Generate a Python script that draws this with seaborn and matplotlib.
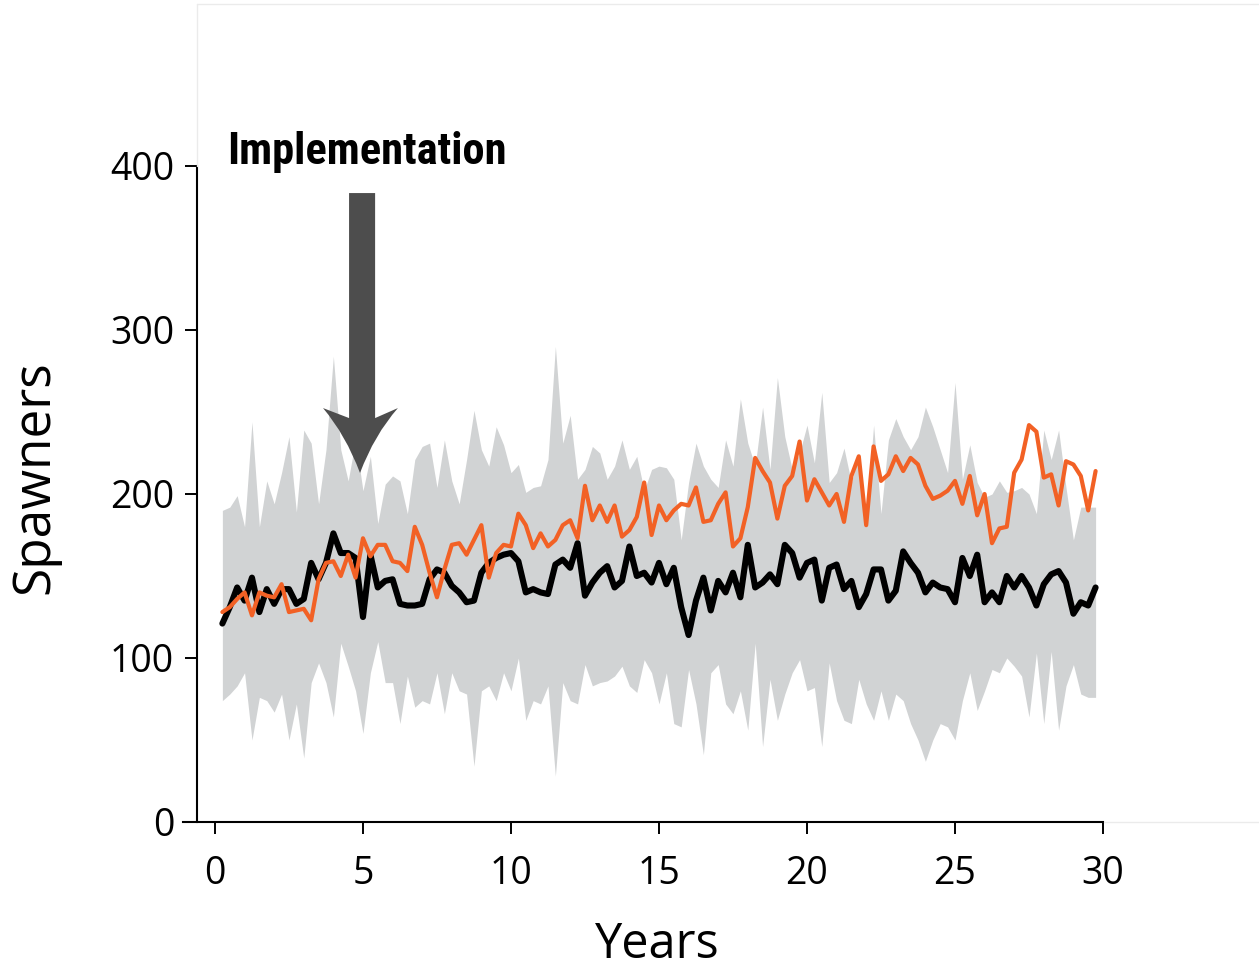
import numpy as np
import pandas as pd
import matplotlib
matplotlib.use("Agg")
import matplotlib.pyplot as plt
from matplotlib.patches import PathPatch
from matplotlib.path import Path
from matplotlib.lines import Line2D
from matplotlib import font_manager
import seaborn as sns

# ---------------- data ----------------
black_series = [
    121, 131, 143, 135, 149, 128, 142, 133, 142, 142, 133, 136, 158, 148, 158, 176, 164, 164, 161, 125,
    163, 143, 147, 148, 133, 132, 132, 133, 148, 154, 152, 144, 140, 134, 135, 152, 158, 161, 163,
    164, 159, 140, 142, 140, 139, 157, 160, 155, 170, 138, 146, 152, 156, 143, 147, 168, 150, 152, 146,
    158, 145, 155, 131, 114, 135, 149, 129, 147, 140, 152, 137, 169, 143, 146, 151, 145, 169, 164, 149,
    158, 160, 135,
    155, 157, 142, 147, 131, 139, 154, 154, 135, 141, 165, 158, 152, 140, 146, 143, 142, 134, 161, 150,
    163, 134, 140, 134, 150, 143, 150, 143, 132, 145, 151, 153, 146, 127, 134, 132, 143,
]
orange_series = [
    128, 131, 136, 140, 126, 140, 138, 137, 145, 128, 129, 130, 123, 148, 158, 159, 150, 163, 149, 173,
    162, 169, 169, 159, 158, 153, 180, 169, 152, 137, 154, 169, 170, 163, 172, 181, 149, 164, 169,
    168, 188, 181, 167, 176, 168, 172, 181, 184, 173, 205, 184, 193, 183, 193, 174, 178, 186, 207, 175,
    193, 184, 190, 194, 193, 204, 183, 184, 194, 201, 168, 173, 192, 222, 214, 207, 185, 205, 211, 232,
    196, 209, 201,
    193, 200, 183, 211, 223, 181, 229, 208, 212, 223, 214, 222, 218, 205, 197, 199, 202, 208, 194, 211,
    187, 200, 170, 179, 180, 213, 221, 242, 238, 210, 212, 193, 220, 218, 211, 190, 214,
]
band_upper = [
    190, 192, 199, 180, 244, 180, 208, 194, 213, 235, 189, 239, 231, 194, 227, 284, 227, 208, 233, 202,
    223, 182, 206, 211, 208, 188, 221, 229, 231, 204, 233, 208, 194, 221, 251, 227, 217, 241, 230,
    213, 218, 201, 204, 205, 221, 290, 231, 248, 209, 215, 229, 225, 209, 217, 233, 215, 223, 202, 215,
    217, 216, 209, 172, 207, 231, 217, 209, 204, 233, 217, 258, 231, 217, 253, 215, 271, 235, 215, 225,
    242, 219, 262,
    207, 213, 228, 207, 224, 184, 242, 188, 233, 246, 235, 227, 235, 253, 241, 227, 213, 268, 209, 230,
    207, 198, 200, 208, 201, 202, 204, 200, 188, 239, 221, 239, 204, 172, 192, 192, 192,
]
band_lower = [
    74, 78, 83, 91, 50, 76, 74, 67, 78, 50, 72, 39, 85, 97, 85, 64, 109, 95, 80, 54,
    91, 110, 85, 85, 60, 89, 70, 74, 72, 91, 66, 91, 80, 78, 34, 80, 83, 74, 91,
    80, 100, 62, 74, 72, 83, 28, 85, 74, 72, 96, 83, 85, 86, 89, 95, 83, 79, 99, 91,
    72, 91, 60, 58, 93, 72, 41, 91, 96, 72, 66, 80, 56, 109, 46, 87, 62, 78, 91, 99,
    80, 82, 46,
    97, 74, 62, 60, 87, 72, 62, 80, 62, 78, 74, 60, 50, 37, 50, 60, 58, 50, 74, 91,
    68, 80, 93, 91, 100, 95, 89, 64, 103, 60, 104, 56, 83, 96, 78, 76, 76,
]
years = [0.25 * (i + 1) for i in range(len(black_series))]

x_ticks = [0, 5, 10, 15, 20, 25, 30]
y_ticks = [0, 100, 200, 300, 400]
x_label = "Years"
y_label = "Spawners"
note_text = "Implementation"

# annotation geometry (data units)
NOTE_XY = (5.14, 401.5)
ARROW_SHAFT = (4.53, 5.41)      # shaft left / right x
ARROW_WINGS = (3.65, 6.18)      # head wing x
ARROW_TIP_X = 4.90
ARROW_TOP_Y, ARROW_SHOULDER_Y, ARROW_WING_Y, ARROW_TIP_Y = 383.5, 246.3, 252.4, 212.8
ARROW_CTRL = (4.42, 5.38, 236.0)  # control points for the concave head edges

# ---------------- style ----------------
sns.set_style("ticks")
plt.rcParams["font.family"] = ["Open Sans", "DejaVu Sans"]
plt.rcParams["text.color"] = "black"

names = {f.name for f in font_manager.fontManager.ttflist}
cond_family = None
for cand in ["Liberation Sans Narrow", "Roboto Condensed", "Open Sans Condensed"]:
    if cand in names:
        cond_family = cand
        break

BAND = "#d1d3d4"
ORANGE = "#f26125"
ARROW = "#4d4d4d"

W, H = 1259, 973
fig = plt.figure(figsize=(W / 100, H / 100), dpi=100)
ax = fig.add_axes([183 / W, (H - 822) / H, (1251 - 183) / W, (822 - 166) / H])

df = pd.DataFrame({"year": years, "black": black_series, "orange": orange_series,
                   "lo": band_lower, "hi": band_upper})

ax.fill_between(df["year"], df["lo"], df["hi"], color=BAND, linewidth=0, zorder=1)
sns.lineplot(data=df, x="year", y="black", ax=ax, color="black", linewidth=4.4,
             estimator=None, zorder=3)
sns.lineplot(data=df, x="year", y="orange", ax=ax, color=ORANGE, linewidth=3.0,
             estimator=None, zorder=4)

ax.set_xlim(-1.08, 35.0)
ax.set_ylim(0, 400)
ax.set_xticks(x_ticks)
ax.set_yticks(y_ticks)
ax.set_xticklabels([str(t) for t in x_ticks])
ax.set_yticklabels([str(t) for t in y_ticks])

for s in ["top", "right"]:
    ax.spines[s].set_visible(False)
ax.spines["left"].set_position(("data", -0.6))
ax.spines["left"].set_bounds(0, 400)
ax.spines["bottom"].set_bounds(-1.08, 30)
for s in ["left", "bottom"]:
    ax.spines[s].set_linewidth(1.5)
    ax.spines[s].set_color("black")

ax.tick_params(axis="both", direction="out", length=8.6, width=1.4, color="black",
               labelsize=27, labelcolor="black")
ax.tick_params(axis="x", pad=15)
ax.tick_params(axis="y", pad=8)

ax.set_xlabel(x_label, fontsize=35, color="black")
ax.set_ylabel(y_label, fontsize=37, color="black")
ax.xaxis.set_label_coords((657 - 183) / (1251 - 183), -(958 - 822) / (822 - 166))
ax.yaxis.set_label_coords(-(183 - 35) / (1251 - 183), (822 - 477) / (822 - 166))
ax.xaxis.label.set_verticalalignment("baseline")
ax.yaxis.label.set_verticalalignment("center")

# implementation note + arrow
if cond_family:
    ax.text(NOTE_XY[0], NOTE_XY[1], note_text, fontsize=32, fontweight="bold",
            family=cond_family, ha="center", va="baseline", clip_on=False, zorder=6,
            color="black")
else:
    ax.text(NOTE_XY[0], NOTE_XY[1], note_text, fontsize=29, fontweight="bold",
            fontstretch="condensed", ha="center", va="baseline", clip_on=False, zorder=6,
            color="black")

verts = [
    (ARROW_SHAFT[0], ARROW_TOP_Y), (ARROW_SHAFT[1], ARROW_TOP_Y),
    (ARROW_SHAFT[1], ARROW_SHOULDER_Y), (ARROW_WINGS[1], ARROW_WING_Y),
    (ARROW_CTRL[1], ARROW_CTRL[2]), (ARROW_TIP_X, ARROW_TIP_Y),
    (ARROW_CTRL[0], ARROW_CTRL[2]), (ARROW_WINGS[0], ARROW_WING_Y),
    (ARROW_SHAFT[0], ARROW_SHOULDER_Y), (ARROW_SHAFT[0], ARROW_TOP_Y),
]
codes = [Path.MOVETO, Path.LINETO, Path.LINETO, Path.LINETO,
         Path.CURVE3, Path.CURVE3, Path.CURVE3, Path.CURVE3,
         Path.LINETO, Path.CLOSEPOLY]
ax.add_patch(PathPatch(Path(verts, codes), facecolor=ARROW, edgecolor="none",
                       zorder=5, clip_on=False))

# faint frame seen in the reference
fc = "#ebebeb"
fig.add_artist(Line2D([197 / W, 1.0], [(H - 4) / H, (H - 4) / H], color=fc, lw=1))
fig.add_artist(Line2D([197 / W, 197 / W], [(H - 4) / H, (H - 166) / H], color=fc, lw=1))
fig.add_artist(Line2D([1104 / W, 1.0], [(H - 822) / H, (H - 822) / H], color=fc, lw=1))

fig.savefig("out.png", dpi=100, facecolor="white")
